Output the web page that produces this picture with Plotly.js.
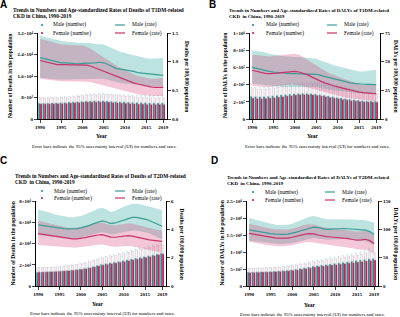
<!DOCTYPE html>
<html><head><meta charset="utf-8">
<script src="https://cdn.plot.ly/plotly-3.0.1.min.js"></script>
<style>html,body{margin:0;padding:0;background:#fff}#chart{width:400px;height:317px}</style>
</head><body><div id="chart"></div>
<script>
// ---------- DATA ----------
const years = [1990,1991,1992,1993,1994,1995,1996,1997,1998,1999,2000,2001,2002,2003,2004,2005,2006,2007,2008,2009,2010,2011,2012,2013,2014,2015,2016,2017,2018,2019];
const xTickVals = [1990,1995,2000,2005,2010,2015,2019];
const xTickText = ['1990','1995','2000','2005','2010','2015','2019'];

// Panel A: Deaths, T1DM-related CKD
const aMaleNum   = [5900,5900,5950,6000,6050,6100,6200,6300,6400,6500,6600,6700,6700,6800,6800,6800,6700,6600,6500,6400,6400,6300,6200,6200,6100,6100,6000,6000,6000,6000];
const aMaleNumUp = [8000,7900,7900,8000,8100,8200,8300,8400,8500,8700,8900,9100,9200,9300,9400,9500,9400,9300,9200,9100,9000,8900,8800,8800,8700,8700,8700,8700,8800,8800];
const aFemNum    = [5700,5700,5700,5750,5800,5850,5900,6000,6100,6200,6300,6400,6400,6400,6400,6400,6300,6200,6100,6000,5900,5800,5700,5600,5600,5500,5500,5500,5500,5500];
const aFemNumUp  = [7800,7700,7700,7700,7800,7900,8000,8100,8200,8400,8600,8800,8900,9000,9000,9100,9000,8900,8700,8600,8400,8300,8100,8000,7900,7800,7800,7800,7800,7800];
const aMaleRate   = [1.07,1.05,1.03,1.01,0.99,0.98,0.98,0.97,0.96,0.96,0.97,0.97,0.97,0.98,0.99,0.98,0.95,0.91,0.88,0.87,0.86,0.85,0.83,0.81,0.80,0.79,0.78,0.77,0.77,0.76];
const aMaleRateUp = [1.45,1.43,1.41,1.39,1.37,1.36,1.35,1.34,1.34,1.33,1.33,1.33,1.32,1.31,1.30,1.30,1.27,1.23,1.20,1.17,1.15,1.13,1.11,1.09,1.07,1.06,1.05,1.05,1.06,1.07];
const aMaleRateLo = [0.72,0.71,0.70,0.70,0.69,0.69,0.69,0.69,0.69,0.69,0.69,0.69,0.69,0.69,0.70,0.70,0.68,0.66,0.64,0.63,0.62,0.61,0.60,0.59,0.58,0.58,0.57,0.57,0.57,0.57];
const aFemRate    = [1.02,1.00,0.98,0.96,0.95,0.95,0.95,0.94,0.94,0.94,0.95,0.94,0.92,0.89,0.86,0.84,0.81,0.77,0.74,0.71,0.68,0.66,0.63,0.61,0.59,0.57,0.56,0.55,0.55,0.55];
const aFemRateUp  = [1.40,1.38,1.36,1.33,1.31,1.30,1.30,1.29,1.28,1.28,1.28,1.26,1.22,1.17,1.12,1.08,1.03,0.98,0.93,0.89,0.85,0.82,0.78,0.75,0.73,0.71,0.70,0.70,0.71,0.72];
const aFemRateLo  = [0.70,0.69,0.68,0.67,0.66,0.66,0.66,0.66,0.66,0.66,0.66,0.65,0.64,0.62,0.60,0.58,0.56,0.54,0.52,0.50,0.48,0.46,0.45,0.43,0.42,0.41,0.40,0.40,0.40,0.40];
const aLeftVals = [0,8000,16000,24000,32000];
const aLeftText = ['0','8×10³','1.6×10⁴','2.4×10⁴','3.2×10⁴'];
const aRightVals = [0,0.5,1.0,1.5];
const aRightText = ['0.0','0.5','1.0','1.5'];

// Panel B: DALYs, T1DM-related CKD
const bMaleNum   = [265000,262000,260000,262000,265000,270000,275000,280000,285000,290000,295000,298000,300000,298000,295000,290000,283000,275000,268000,260000,252000,245000,238000,232000,226000,220000,215000,212000,210000,208000];
const bMaleNumUp = [370000,365000,362000,365000,370000,378000,385000,392000,400000,408000,415000,420000,425000,428000,430000,430000,425000,418000,410000,400000,390000,378000,365000,352000,340000,330000,320000,312000,305000,300000];
const bFemNum    = [245000,242000,240000,242000,245000,250000,256000,262000,268000,274000,280000,284000,286000,285000,282000,277000,270000,262000,254000,246000,238000,230000,223000,217000,211000,206000,202000,200000,198000,197000];
const bFemNumUp  = [350000,345000,342000,345000,350000,358000,366000,374000,382000,390000,398000,404000,408000,410000,410000,408000,402000,394000,385000,375000,364000,352000,340000,328000,318000,308000,300000,294000,290000,288000];
const bMaleRate   = [45,44,43,42,41.5,41,40.5,40,39.5,39.5,39.5,39.5,39.5,39.5,39.5,39,38,37,36,35,34.5,33.5,32.5,31.5,31,30.5,30.3,30.2,30.1,30];
const bMaleRateUp = [60,59.5,59,58,57,56,55.5,55,54.5,54,54,54,53.5,53.5,53,52.5,51,49.5,48,47,46,45,44,43,42,41.5,41.5,42,42.5,43];
const bMaleRateLo = [31,30.5,30,29.5,29,28.5,28,28,28,28,28,28,28,28,28,28,27,26,25.5,25,24.5,24,23.5,23,22.5,22,22,22,22,22];
const bFemRate    = [42.5,41.5,40.5,39.8,39.5,39.5,40,40.5,41,41.5,41.5,41,40,38.5,36.5,34.5,33,31.5,30,29,28,27,26,25,24,23.5,23,22.5,22.3,22.2];
const bFemRateUp  = [56,55.5,55,54.5,54.5,55,55.5,56,56.5,57,57,56,54,51.5,49,46.5,44,42,40,38.5,37,35.5,34,32.5,31,30,29.5,29.5,29.8,30];
const bFemRateLo  = [29,28.5,28,28,28,28.5,29,29.5,30,30,30,29.5,28.5,27.5,26.5,25,24,23,22,21,20,19,18.5,18,17.5,17,16.5,16,15.5,15.5];
const bLeftVals = [0,200000,400000,600000,800000,1000000];
const bLeftText = ['0','2×10⁵','4×10⁵','6×10⁵','8×10⁵','1×10⁶'];
const bRightVals = [0,25,50,75];
const bRightText = ['0','25','50','75'];

// Panel C: Deaths, T2DM-related CKD
const cMaleNum   = [13000,13200,13400,13600,13800,14000,14300,14700,15100,15600,16100,16800,17600,18500,19500,20500,21200,21800,22500,23200,24000,24800,25500,26300,27000,27800,28500,29300,30200,31000];
const cMaleNumUp = [17000,17200,17400,17600,17800,18100,18500,19000,19600,20300,21000,21900,23000,24200,25500,26800,27700,28500,29400,30400,31400,32400,33400,34400,35400,36400,37300,38200,39000,39500];
const cFemNum    = [13300,13400,13500,13700,13900,14100,14400,14700,15000,15400,15900,16500,17200,18100,19100,20000,20600,21200,21800,22500,23200,24000,24700,25500,26200,27000,27800,28600,29500,30300];
const cFemNumUp  = [17300,17400,17500,17700,17900,18200,18600,19000,19500,20100,20800,21600,22600,23800,25000,26200,27000,27800,28600,29500,30400,31400,32400,33400,34400,35400,36300,37200,38000,38500];
const cMaleRate   = [4.32,4.27,4.22,4.17,4.12,4.08,4.05,4.03,4.02,4.04,4.10,4.18,4.28,4.40,4.52,4.60,4.52,4.40,4.45,4.55,4.68,4.78,4.84,4.85,4.80,4.72,4.62,4.50,4.35,4.22];
const cMaleRateUp = [5.40,5.33,5.25,5.15,5.05,4.98,4.92,4.87,4.85,4.88,4.95,5.05,5.18,5.32,5.45,5.52,5.40,5.22,5.30,5.45,5.60,5.72,5.78,5.80,5.76,5.70,5.62,5.52,5.42,5.35];
const cMaleRateLo = [3.60,3.56,3.52,3.48,3.44,3.41,3.39,3.38,3.37,3.38,3.43,3.49,3.57,3.66,3.75,3.80,3.74,3.64,3.67,3.74,3.82,3.88,3.92,3.92,3.88,3.80,3.70,3.58,3.44,3.30];
const cFemRate    = [3.70,3.65,3.59,3.53,3.48,3.44,3.40,3.36,3.33,3.33,3.36,3.42,3.48,3.55,3.60,3.62,3.55,3.45,3.44,3.48,3.54,3.56,3.52,3.45,3.38,3.30,3.25,3.22,3.18,3.15];
const cFemRateUp  = [4.60,4.53,4.45,4.37,4.30,4.23,4.17,4.12,4.10,4.11,4.16,4.23,4.31,4.40,4.46,4.48,4.40,4.28,4.27,4.32,4.40,4.43,4.40,4.32,4.24,4.15,4.08,4.02,3.96,3.90];
const cFemRateLo  = [2.90,2.87,2.84,2.81,2.78,2.76,2.74,2.72,2.71,2.71,2.73,2.77,2.82,2.87,2.92,2.93,2.87,2.79,2.77,2.79,2.82,2.82,2.78,2.72,2.65,2.58,2.52,2.46,2.40,2.35];
const cLeftVals = [0,20000,40000,60000,80000];
const cLeftText = ['0','2×10⁴','4×10⁴','6×10⁴','8×10⁴'];
const cRightVals = [0,2,4,6];
const cRightText = ['0','2','4','6'];

// Panel D: DALYs, T2DM-related CKD
const dMaleNum   = [410000,413000,417000,421000,425000,430000,437000,445000,455000,466000,480000,497000,515000,537000,560000,585000,602000,617000,632000,648000,665000,682000,698000,714000,730000,748000,765000,782000,800000,812000];
const dMaleNumUp = [520000,523000,527000,531000,536000,542000,550000,560000,573000,588000,605000,627000,650000,678000,707000,738000,760000,780000,800000,822000,845000,868000,890000,912000,935000,965000,1000000,1050000,1090000,1030000];
const dFemNum    = [400000,403000,407000,411000,415000,420000,426000,433000,442000,452000,465000,480000,497000,517000,538000,560000,576000,590000,604000,618000,633000,648000,663000,677000,692000,707000,722000,737000,752000,765000];
const dFemNumUp  = [510000,513000,517000,521000,525000,531000,538000,547000,558000,571000,587000,606000,627000,652000,678000,706000,726000,744000,762000,780000,800000,820000,840000,858000,878000,900000,930000,970000,1000000,960000];
const dMaleRate   = [99,97.5,96,94.5,93.5,92.5,91.5,91,91,91.5,93,95,97.5,100,102.5,104,103,101,100,100.5,101,101.5,101.5,101,100.5,99.5,99,98.5,96,91];
const dMaleRateUp = [120,118,116,113,111,109.5,108,107.5,107.5,108,110,113,116,119,122,123.5,122,119.5,118,118,118,118.5,118.5,118,117.5,117,116.5,116,114,112];
const dMaleRateLo = [80,79,78,77,76,75,74.5,74,74,74.5,76,77.5,79.5,82,84,85,84,82.5,81.5,82,82.5,83,83,82.5,82,81,80,79,76,71];
const dFemRate    = [93,91.5,90,88.5,87,86,85,84.5,84,84.5,86,88,90,91.5,92.5,92,90,88,87,86.5,86,85.5,84.5,83.5,82,81,81.5,82.5,80,75];
const dFemRateUp  = [110,108,106,104,102,101,100,99.5,99,99.5,101,103.5,106,108,109,108.5,106.5,104,103,102,101.5,101,100,98.5,97,96,96.5,97.5,95,90];
const dFemRateLo  = [78,77,75.5,74,72.5,71.5,70.5,70,70,70.5,72,74,76,77,77.5,77,75.5,74,73,72,71.5,70.5,69.5,68,66.5,65,64.5,64,61,58];
const dLeftVals = [0,500000,1000000,1500000,2000000,2500000];
const dLeftText = ['0','5×10⁵','1×10⁶','1.5×10⁶','2×10⁶','2.5×10⁶'];
const dRightVals = [0,50,100,150];
const dRightText = ['0','50','100','150'];

const titleLine1 = [
  'Trends in Numbers and Age-standardized Rates of Deaths of T1DM-related',
  'Trends in Numbers and Age-standardized Rates of DALYs of T1DM-related',
  'Trends in Numbers and Age-standardized Rates of Deaths of T2DM-related',
  'Trends in Numbers and Age-standardized Rates of DALYs of T2DM-related'
];
const titleLine2 = ['CKD in China, 1990-2019','CKD  in China, 1990-2019','CKD  in China, 1990-2019','CKD  in China, 1990-2019'];
const leftTitles = ['Number of Deaths in the population','Number of DALYs in the population','Number of Deaths in the population','Number of DALYs in the population'];
const rightTitles = ['Deaths per 100,000 population','DALYs per 100,000 population','Deaths per 100,000 population','DALYs per 100,000 population'];
const letters = ['A','B','C','D'];
const legendNames = ['Male (number)','Female (number)','Male (rate)','Female (rate)'];
const footnote = 'Error bars indicate the 95% uncertainty interval (UI) for numbers and rates.';
const xTitle = 'Year';

// ---------- STYLE / LAYOUT ----------
const W = 400, H = 317;
const px = v => v / W, py = v => 1 - v / H;
const SERIF = 'Liberation Serif, Times New Roman, serif';
const SANS = 'Liberation Sans, Arial, sans-serif';
const COL = {
  male: '#2a8f89', female: '#c8205f',
  maleErr: '#a9dbd7', femaleErr: '#f3a9c4',
  maleLine: '#3a9d97', femaleLine: '#c8336c',
  maleBand: 'rgba(96,188,182,0.42)', femaleBand: 'rgba(214,70,122,0.30)'
};

const panels = [
  {d:{mn:aMaleNum,mu:aMaleNumUp,fn:aFemNum,fu:aFemNumUp,mr:aMaleRate,mru:aMaleRateUp,mrl:aMaleRateLo,fr:aFemRate,fru:aFemRateUp,frl:aFemRateLo},
   lv:aLeftVals,lt:aLeftText,rv:aRightVals,rt:aRightText, tsize:5.3,
   x0:38,x1:167,top:33,bot:119, title:[11,10], letter:[3.5,4], lt_x:10, rt_x:187, yr:[102,136], fn:[104,146],
   leg:{dot:42,txt:51,l0:115,l1:125,rtxt:130,r1:25,r2:33}},
  {d:{mn:bMaleNum,mu:bMaleNumUp,fn:bFemNum,fu:bFemNumUp,mr:bMaleRate,mru:bMaleRateUp,mrl:bMaleRateLo,fr:bFemRate,fru:bFemRateUp,frl:bFemRateLo},
   lv:bLeftVals,lt:bLeftText,rv:bRightVals,rt:bRightText, tsize:4.95,
   x0:250,x1:380,top:33,bot:119, title:[227,10], letter:[212,4.5], lt_x:225, rt_x:396, yr:[313,136], fn:[317,146],
   leg:{dot:253,txt:264,l0:327,l1:337,rtxt:342,r1:25,r2:33}},
  {d:{mn:cMaleNum,mu:cMaleNumUp,fn:cFemNum,fu:cFemNumUp,mr:cMaleRate,mru:cMaleRateUp,mrl:cMaleRateLo,fr:cFemRate,fru:cFemRateUp,frl:cFemRateLo},
   lv:cLeftVals,lt:cLeftText,rv:cRightVals,rt:cRightText, tsize:5.3,
   x0:36,x1:166,top:201,bot:286, title:[13,176], letter:[3,160.5], lt_x:12, rt_x:182, yr:[98,304], fn:[102,313],
   leg:{dot:42,txt:52,l0:115,l1:125,rtxt:130,r1:191,r2:198}},
  {d:{mn:dMaleNum,mu:dMaleNumUp,fn:dFemNum,fu:dFemNumUp,mr:dMaleRate,mru:dMaleRateUp,mrl:dMaleRateLo,fr:dFemRate,fru:dFemRateUp,frl:dFemRateLo},
   lv:dLeftVals,lt:dLeftText,rv:dRightVals,rt:dRightText, tsize:5.0,
   x0:247,x1:378,top:201,bot:286, title:[225,177], letter:[214,160.5], lt_x:221, rt_x:396, yr:[310,305], fn:[312,314],
   leg:{dot:253,txt:263,l0:325,l1:335,rtxt:340,r1:192,r2:200}}
];

const traces = [];
const layout = {
  width: W, height: H, margin: {l:0,r:0,t:0,b:0},
  paper_bgcolor: '#fff', plot_bgcolor: 'rgba(0,0,0,0)',
  showlegend: false, barmode: 'group', bargap: 0.14, bargroupgap: 0,
  annotations: [], shapes: []
};
const tickFont = {family: SERIF, size: 5, color: '#000', weight: 'bold'};
const diff = (a, b) => a.map((v, i) => v - b[i]);

panels.forEach((p, k) => {
  const xn = k === 0 ? 'x' : 'x' + (k + 1);
  const yL = 'y' + (k === 0 ? '' : (2 * k + 1));
  const yR = 'y' + (2 * k + 2);
  const xaKey = k === 0 ? 'xaxis' : 'xaxis' + (k + 1);
  const yLKey = 'yaxis' + (k === 0 ? '' : (2 * k + 1));
  const yRKey = 'yaxis' + (2 * k + 2);
  const dom = [py(p.bot), py(p.top)];
  const lr = p.lv[p.lv.length - 1], rr = p.rv[p.rv.length - 1];

  layout[xaKey] = {domain: [px(p.x0), px(p.x1)], anchor: yL, range: [1989.5, 2019.9],
    tickvals: xTickVals, ticktext: xTickText, ticks: 'outside', ticklen: 2.5, tickwidth: 1,
    showline: true, linecolor: '#000', linewidth: 1, showgrid: false, zeroline: false,
    tickfont: tickFont, fixedrange: true};
  layout[yLKey] = {domain: dom, anchor: xn, range: [0, lr], tickvals: p.lv, ticktext: p.lt,
    ticks: 'outside', ticklen: 3, tickwidth: 1, showline: true, linecolor: '#000', linewidth: 1,
    showgrid: false, zeroline: false, tickfont: tickFont, fixedrange: true};
  layout[yRKey] = {overlaying: yL, anchor: xn, side: 'right', range: [0, rr], tickvals: p.rv, ticktext: p.rt,
    ticks: 'outside', ticklen: 3, tickwidth: 1, showline: true, linecolor: '#000', linewidth: 1,
    showgrid: false, zeroline: false, tickfont: tickFont, fixedrange: true};

  const d = p.d;
  traces.push({type: 'bar', name: legendNames[0], x: years, y: d.mn, xaxis: xn, yaxis: yL,
    marker: {color: COL.male, line: {width: 0}},
    error_y: {type: 'data', symmetric: false, array: diff(d.mu, d.mn), arrayminus: d.mn.map(() => 0),
      color: COL.maleErr, thickness: 0.7, width: 0.8}});
  traces.push({type: 'bar', name: legendNames[1], x: years, y: d.fn, xaxis: xn, yaxis: yL,
    marker: {color: COL.female, line: {width: 0}},
    error_y: {type: 'data', symmetric: false, array: diff(d.fu, d.fn), arrayminus: d.fn.map(() => 0),
      color: COL.femaleErr, thickness: 0.7, width: 0.8}});
  traces.push({type: 'scatter', mode: 'lines', x: years, y: d.mru, xaxis: xn, yaxis: yR,
    line: {width: 0, color: COL.maleLine}, hoverinfo: 'skip'});
  traces.push({type: 'scatter', mode: 'lines', x: years, y: d.mrl, xaxis: xn, yaxis: yR,
    line: {width: 0, color: COL.maleLine}, fill: 'tonexty', fillcolor: COL.maleBand, hoverinfo: 'skip'});
  traces.push({type: 'scatter', mode: 'lines', x: years, y: d.fru, xaxis: xn, yaxis: yR,
    line: {width: 0, color: COL.femaleLine}, hoverinfo: 'skip'});
  traces.push({type: 'scatter', mode: 'lines', x: years, y: d.frl, xaxis: xn, yaxis: yR,
    line: {width: 0, color: COL.femaleLine}, fill: 'tonexty', fillcolor: COL.femaleBand, hoverinfo: 'skip'});
  traces.push({type: 'scatter', mode: 'lines', name: legendNames[2], x: years, y: d.mr, xaxis: xn, yaxis: yR,
    line: {width: 1.2, color: COL.maleLine}});
  traces.push({type: 'scatter', mode: 'lines', name: legendNames[3], x: years, y: d.fr, xaxis: xn, yaxis: yR,
    line: {width: 1.2, color: COL.femaleLine}});

  const A = layout.annotations, S = layout.shapes;
  const ann = (x, y, text, o) => A.push(Object.assign({xref: 'paper', yref: 'paper', x: px(x), y: py(y), text: text,
    showarrow: false, xanchor: 'left', yanchor: 'middle'}, o));
  const tf = {family: SERIF, size: p.tsize, weight: 'bold', color: '#000'};
  ann(p.title[0], p.title[1], titleLine1[k], {font: tf});
  ann(p.title[0], p.title[1] + 6, titleLine2[k], {font: tf});
  ann(p.letter[0], p.letter[1], letters[k], {xanchor: 'center', font: {family: SANS, size: 10, weight: 'bold', color: '#000'}});
  ann(p.lt_x, (p.top + p.bot) / 2, leftTitles[k], {xanchor: 'center', textangle: -90, font: {family: SERIF, size: 5.5, weight: 'bold', color: '#000'}});
  ann(p.rt_x, (p.top + p.bot) / 2, rightTitles[k], {xanchor: 'center', textangle: 90, font: {family: SERIF, size: 5.5, weight: 'bold', color: '#000'}});
  ann(p.yr[0], p.yr[1], xTitle, {xanchor: 'center', font: {family: SERIF, size: 5.5, weight: 'bold', color: '#000'}});
  ann(p.fn[0], p.fn[1], footnote, {xanchor: 'center', font: {family: SERIF, size: 4.8, color: '#000'}});
  // legend
  const L = p.leg, lf = {family: SERIF, size: 5.5, color: '#000'};
  ann(L.txt, L.r1, legendNames[0], {font: lf});
  ann(L.txt, L.r2, legendNames[1], {font: lf});
  ann(L.rtxt, L.r1, legendNames[2], {font: lf});
  ann(L.rtxt, L.r2, legendNames[3], {font: lf});
  const r = 1.1;
  S.push({type: 'circle', xref: 'paper', yref: 'paper', x0: px(L.dot - r), x1: px(L.dot + r), y0: py(L.r1 + r), y1: py(L.r1 - r), fillcolor: COL.male, line: {width: 0}});
  S.push({type: 'circle', xref: 'paper', yref: 'paper', x0: px(L.dot - r), x1: px(L.dot + r), y0: py(L.r2 + r), y1: py(L.r2 - r), fillcolor: COL.female, line: {width: 0}});
  S.push({type: 'line', xref: 'paper', yref: 'paper', x0: px(L.l0), x1: px(L.l1), y0: py(L.r1), y1: py(L.r1), line: {color: COL.maleLine, width: 1.2}});
  S.push({type: 'line', xref: 'paper', yref: 'paper', x0: px(L.l0), x1: px(L.l1), y0: py(L.r2), y1: py(L.r2), line: {color: COL.femaleLine, width: 1.2}});
});

Plotly.newPlot('chart', traces, layout, {staticPlot: true, displayModeBar: false});
</script>
</body></html>
